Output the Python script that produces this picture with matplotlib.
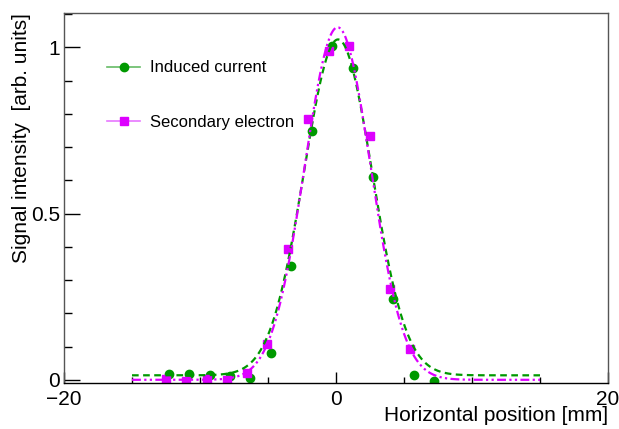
import matplotlib
matplotlib.use('Agg')
import matplotlib.pyplot as plt
import numpy as np
from matplotlib.lines import Line2D
from matplotlib.ticker import MultipleLocator, FixedLocator

plt.rcParams['font.family'] = ['Liberation Sans', 'DejaVu Sans']

# induced current (green circles)
ic_x = [-12.28, -10.79, -9.26, -7.79, -6.32, -4.80, -3.31, -1.79, -0.27, 1.23, 2.72, 4.21, 5.71, 7.21]
ic_y = [0.016, 0.017, 0.013, 0.011, 0.004, 0.080, 0.342, 0.748, 1.004, 0.939, 0.611, 0.242, 0.014, -0.005]

# secondary electron (magenta squares)
se_x = [-12.52, -11.03, -9.51, -7.99, -6.52, -5.05, -3.51, -2.03, -0.51, 0.98, 2.48, 3.97, 5.46]
se_y = [0.001, -0.004, 0.002, -0.002, 0.020, 0.109, 0.392, 0.783, 0.988, 1.003, 0.733, 0.274, 0.092]

# gaussian + constant fit parameters (amp, mean, sigma, const)
ic_fit = [1.01, 0.15, 2.50, 0.0135]
se_fit = [1.06, 0.12, 2.42, 0.0]
fit_range = [-15, 15]

GREEN = '#009900'
MAGENTA = '#dd00ff'


def gaus(x, p):
    return p[0] * np.exp(-0.5 * ((x - p[1]) / p[2]) ** 2) + p[3]


fig = plt.figure(figsize=(6.19, 4.29), dpi=100)
ax = fig.add_axes([64 / 619, 1 - 383.3 / 429, 544 / 619, 370.3 / 429])

ax.plot(ic_x, ic_y, 'o', color=GREEN, ms=6, mec=GREEN, zorder=2)
ax.plot(se_x, se_y, 's', color=MAGENTA, ms=5.6, mec=MAGENTA, zorder=2)

xf = np.linspace(fit_range[0], fit_range[1], 400)
ax.plot(xf, gaus(xf, ic_fit), color=GREEN, lw=1.6, ls=(0, (3, 2)), zorder=3)
ax.plot(xf, gaus(xf, se_fit), color=MAGENTA, lw=1.6, ls=(0, (4, 1.5, 1, 1.5, 1, 1.5)), zorder=3)

ax.set_xlim(-20, 20)
ax.set_ylim(-0.0105, 1.103)
ax.xaxis.set_major_locator(FixedLocator([-20, 0, 20]))
ax.xaxis.set_minor_locator(MultipleLocator(5))
ax.yaxis.set_major_locator(FixedLocator([0, 0.5, 1]))
ax.yaxis.set_minor_locator(MultipleLocator(0.1))
ax.set_xticklabels(['\u221220', '0', '20'])
ax.set_yticklabels(['0', '0.5', '1'])
ax.tick_params(axis='x', which='major', direction='in', length=8, width=1, labelsize=15, pad=4.5,
               top=False)
ax.tick_params(axis='x', which='minor', direction='in', length=4, width=1, top=False)
ax.tick_params(axis='y', which='major', direction='in', length=11.5, width=1, labelsize=15, pad=3,
               right=False)
ax.tick_params(axis='y', which='minor', direction='in', length=6, width=1, right=False)
for s in ax.spines.values():
    s.set_linewidth(1)
    s.set_color('#555555')
ax.spines['bottom'].set_color('black')

ax.set_xlabel('Horizontal position [mm]', fontsize=15, loc='right')
ax.xaxis.set_label_coords(1.0, -0.062)
ax.set_ylabel('Signal intensity  [arb. units]', fontsize=15, loc='top')
ax.yaxis.set_label_coords(-0.06, 1.0)

handles = [
    Line2D([], [], color='#66bb66', lw=1.2, marker='o', ms=6, mfc=GREEN, mec=GREEN),
    Line2D([], [], color='#e877ff', lw=1.2, marker='s', ms=5.6, mfc=MAGENTA, mec=MAGENTA),
]
ax.legend(handles, ['Induced current', 'Secondary electron'], loc='center left',
          bbox_to_anchor=((107 - 64) / 544, (383.3 - 95) / 370.3), frameon=False,
          borderpad=0, borderaxespad=0, fontsize=12, handlelength=1.98,
          handletextpad=0.6, labelspacing=2.35)

fig.savefig('out.png', dpi=100)
